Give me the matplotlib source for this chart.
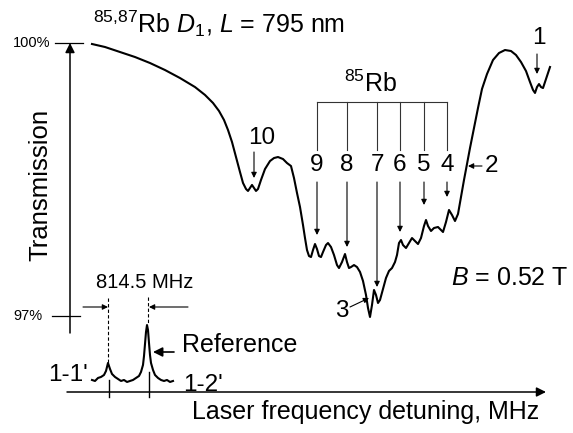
import matplotlib
matplotlib.use("Agg")
import matplotlib.pyplot as plt
from matplotlib.transforms import Affine2D

plt.rcParams['font.family'] = ['Liberation Sans', 'DejaVu Sans']
plt.rcParams['mathtext.fontset'] = 'custom'
plt.rcParams['mathtext.rm'] = 'Liberation Sans'
plt.rcParams['mathtext.it'] = 'Liberation Sans:italic'

# transmission spectrum, Rb D1 at B = 0.52 T (frequency in arb. units, T in %)
freq = [92, 105, 120, 135, 150, 165, 180, 195, 205, 213,
        219, 224, 228, 232, 236, 240, 243, 246, 248, 250,
        252, 254, 256, 258, 261, 265, 270, 274, 278, 283,
        287, 291, 294, 297, 300, 303, 305, 307, 309, 311,
        313, 315, 317, 319, 321, 323, 326, 328, 331, 334,
        337, 339, 342, 345, 347, 349, 351, 354, 357, 360,
        363, 366, 368, 370, 372, 374, 376, 378, 380, 383,
        386, 389, 392, 395, 397, 399, 401, 403, 406, 409,
        412, 415, 418, 421, 424, 426, 428, 431, 434, 438,
        441, 443, 446, 449, 452, 455, 458, 461, 464, 467,
        470, 474, 478, 482, 487, 493, 499, 505, 511, 516,
        521, 526, 530, 533, 535, 537, 539, 541, 543, 546,
        550]
trans = [99.989, 99.956, 99.901, 99.846, 99.780, 99.703, 99.615, 99.516, 99.429, 99.341,
         99.253, 99.154, 99.044, 98.912, 98.747, 98.582, 98.462, 98.396, 98.374, 98.407,
         98.440, 98.407, 98.374, 98.396, 98.495, 98.615, 98.703, 98.736, 98.747, 98.725,
         98.681, 98.648, 98.516, 98.352, 98.198, 98.000, 97.857, 97.725, 97.659, 97.648,
         97.725, 97.791, 97.736, 97.659, 97.648, 97.703, 97.780, 97.802, 97.758, 97.670,
         97.560, 97.527, 97.593, 97.681, 97.593, 97.527, 97.538, 97.560, 97.538, 97.484,
         97.385, 97.231, 97.088, 96.989, 97.121, 97.286, 97.231, 97.143, 97.176, 97.297,
         97.418, 97.495, 97.527, 97.593, 97.670, 97.802, 97.835, 97.780, 97.747, 97.802,
         97.857, 97.824, 97.791, 97.857, 97.989, 98.055, 97.989, 97.934, 97.967, 97.978,
         97.945, 97.923, 98.033, 98.165, 98.110, 98.044, 98.121, 98.308, 98.495, 98.670,
         98.846, 99.066, 99.286, 99.495, 99.659, 99.813, 99.890, 99.923, 99.912, 99.868,
         99.791, 99.692, 99.571, 99.484, 99.451, 99.516, 99.549, 99.516, 99.505, 99.604,
         99.736]

# reference cell signal (1-1' and 1-2')
ref_freq = [92, 95, 98, 101, 104, 106, 108, 110, 112, 115,
            118, 121, 124, 127, 130, 133, 136, 139, 141, 143,
            144, 145, 146, 147, 148, 149, 150, 151, 153, 155,
            158, 161, 164, 167, 170, 173]
ref_sig = [96.297, 96.286, 96.319, 96.330, 96.352, 96.396, 96.484, 96.418, 96.363, 96.330,
           96.308, 96.286, 96.297, 96.275, 96.286, 96.297, 96.319, 96.341, 96.385, 96.462,
           96.560, 96.692, 96.824, 96.901, 96.846, 96.703, 96.571, 96.484, 96.407, 96.352,
           96.319, 96.297, 96.286, 96.297, 96.275, 96.286]

labels_85 = ['9', '8', '7', '6', '5', '4']

W, H = 573, 433
fig = plt.figure(figsize=(W / 100, H / 100), dpi=100)
ax = fig.add_axes([0, 0, 1, 1])
ax.set_xlim(0, W)
ax.set_ylim(100 - (H - 43) * 3 / 273, 100 + 43 * 3 / 273)
ax.axis('off')

# pixel coords (origin top-left) for the annotations
px = Affine2D().scale(1 / W, -1 / H).translate(0, 1) + fig.transFigure

ax.plot(freq, trans, color='k', lw=1.5)
ax.plot(ref_freq, ref_sig, color='k', lw=1.5)


def arrow(x0, y0, x1, y1, lw=0.8, ms=8, style='-|>'):
    ax.annotate('', xy=(x1, y1), xytext=(x0, y0), xycoords=px, textcoords=px,
                arrowprops=dict(arrowstyle=style, lw=lw, color='k',
                                mutation_scale=ms, shrinkA=0, shrinkB=0))


def line(xs, ys, **kw):
    kw.setdefault('color', 'k')
    kw.setdefault('lw', 0.9)
    ax.plot(xs, ys, transform=px, **kw)


# axes arrows
arrow(70, 333, 70, 43, lw=1.1, ms=14)
arrow(67, 392, 546, 392, lw=1.1, ms=14)
line([55, 83], [43, 43])
line([52, 80], [316, 316])
ax.text(50, 43, '100%', transform=px, fontsize=10.5, ha='right', va='center')
ax.text(43, 316, '97%', transform=px, fontsize=10.5, ha='right', va='center')

ax.text(40, 185, 'Transmission', transform=px, fontsize=18.5, rotation=90,
        ha='center', va='center')
ax.text(366, 412, 'Laser frequency detuning, MHz', transform=px, fontsize=18,
        ha='center', va='center')

ax.text(93, 33, r'$^{85{,}87}$Rb $D_1$, $L$ = 795 nm', transform=px, fontsize=18,
        ha='left', va='baseline')

# 85Rb bracket
bx = [317, 347, 377, 400, 424, 447]
tips = [235, 247, 287, 232, 205, 197]
line([bx[0], bx[-1]], [102, 102], lw=0.8, color='#333333')
for x, lab, tip in zip(bx, labels_85, tips):
    line([x, x], [102, 150], lw=0.8, color='#333333')
    ax.text(x, 165, lab, transform=px, fontsize=17.5, ha='center', va='center')
    arrow(x, 182, x, tip)
ax.text(371, 92, r'$^{85}$Rb', transform=px, fontsize=18, ha='center', va='baseline')

ax.text(262, 138, '10', transform=px, fontsize=17.5, ha='center', va='center')
arrow(254, 152, 254, 178)
ax.text(539, 38, '1', transform=px, fontsize=17.5, ha='center', va='center')
arrow(537, 54, 537, 74)
ax.text(492, 166, '2', transform=px, fontsize=17.5, ha='center', va='center')
arrow(482, 166, 468, 166)
ax.text(342, 311, '3', transform=px, fontsize=17.5, ha='center', va='center')
arrow(350, 307, 369, 298)

ax.text(510, 278, '$B$ = 0.52 T', transform=px, fontsize=18, ha='center', va='center')

# reference lines
line([108, 108], [298, 363], ls=(0, (3, 2)), lw=0.8)
line([148, 148], [297, 323], ls=(0, (3, 2)), lw=0.8)
line([109, 109], [380, 397], lw=1.0)
line([149, 149], [372, 397], lw=1.0)
arrow(83, 307, 108, 307)
arrow(188, 307, 149, 307)
ax.text(145, 283, '814.5 MHz', transform=px, fontsize=14.5, ha='center', va='center')
arrow(174, 352, 153, 352, lw=1.2, ms=14)
ax.text(182, 345, 'Reference', transform=px, fontsize=18, ha='left', va='center')
ax.text(68, 375, "1-1'", transform=px, fontsize=17.5, ha='center', va='center')
ax.text(203, 385, "1-2'", transform=px, fontsize=17.5, ha='center', va='center')

fig.savefig('out.png', dpi=100)
